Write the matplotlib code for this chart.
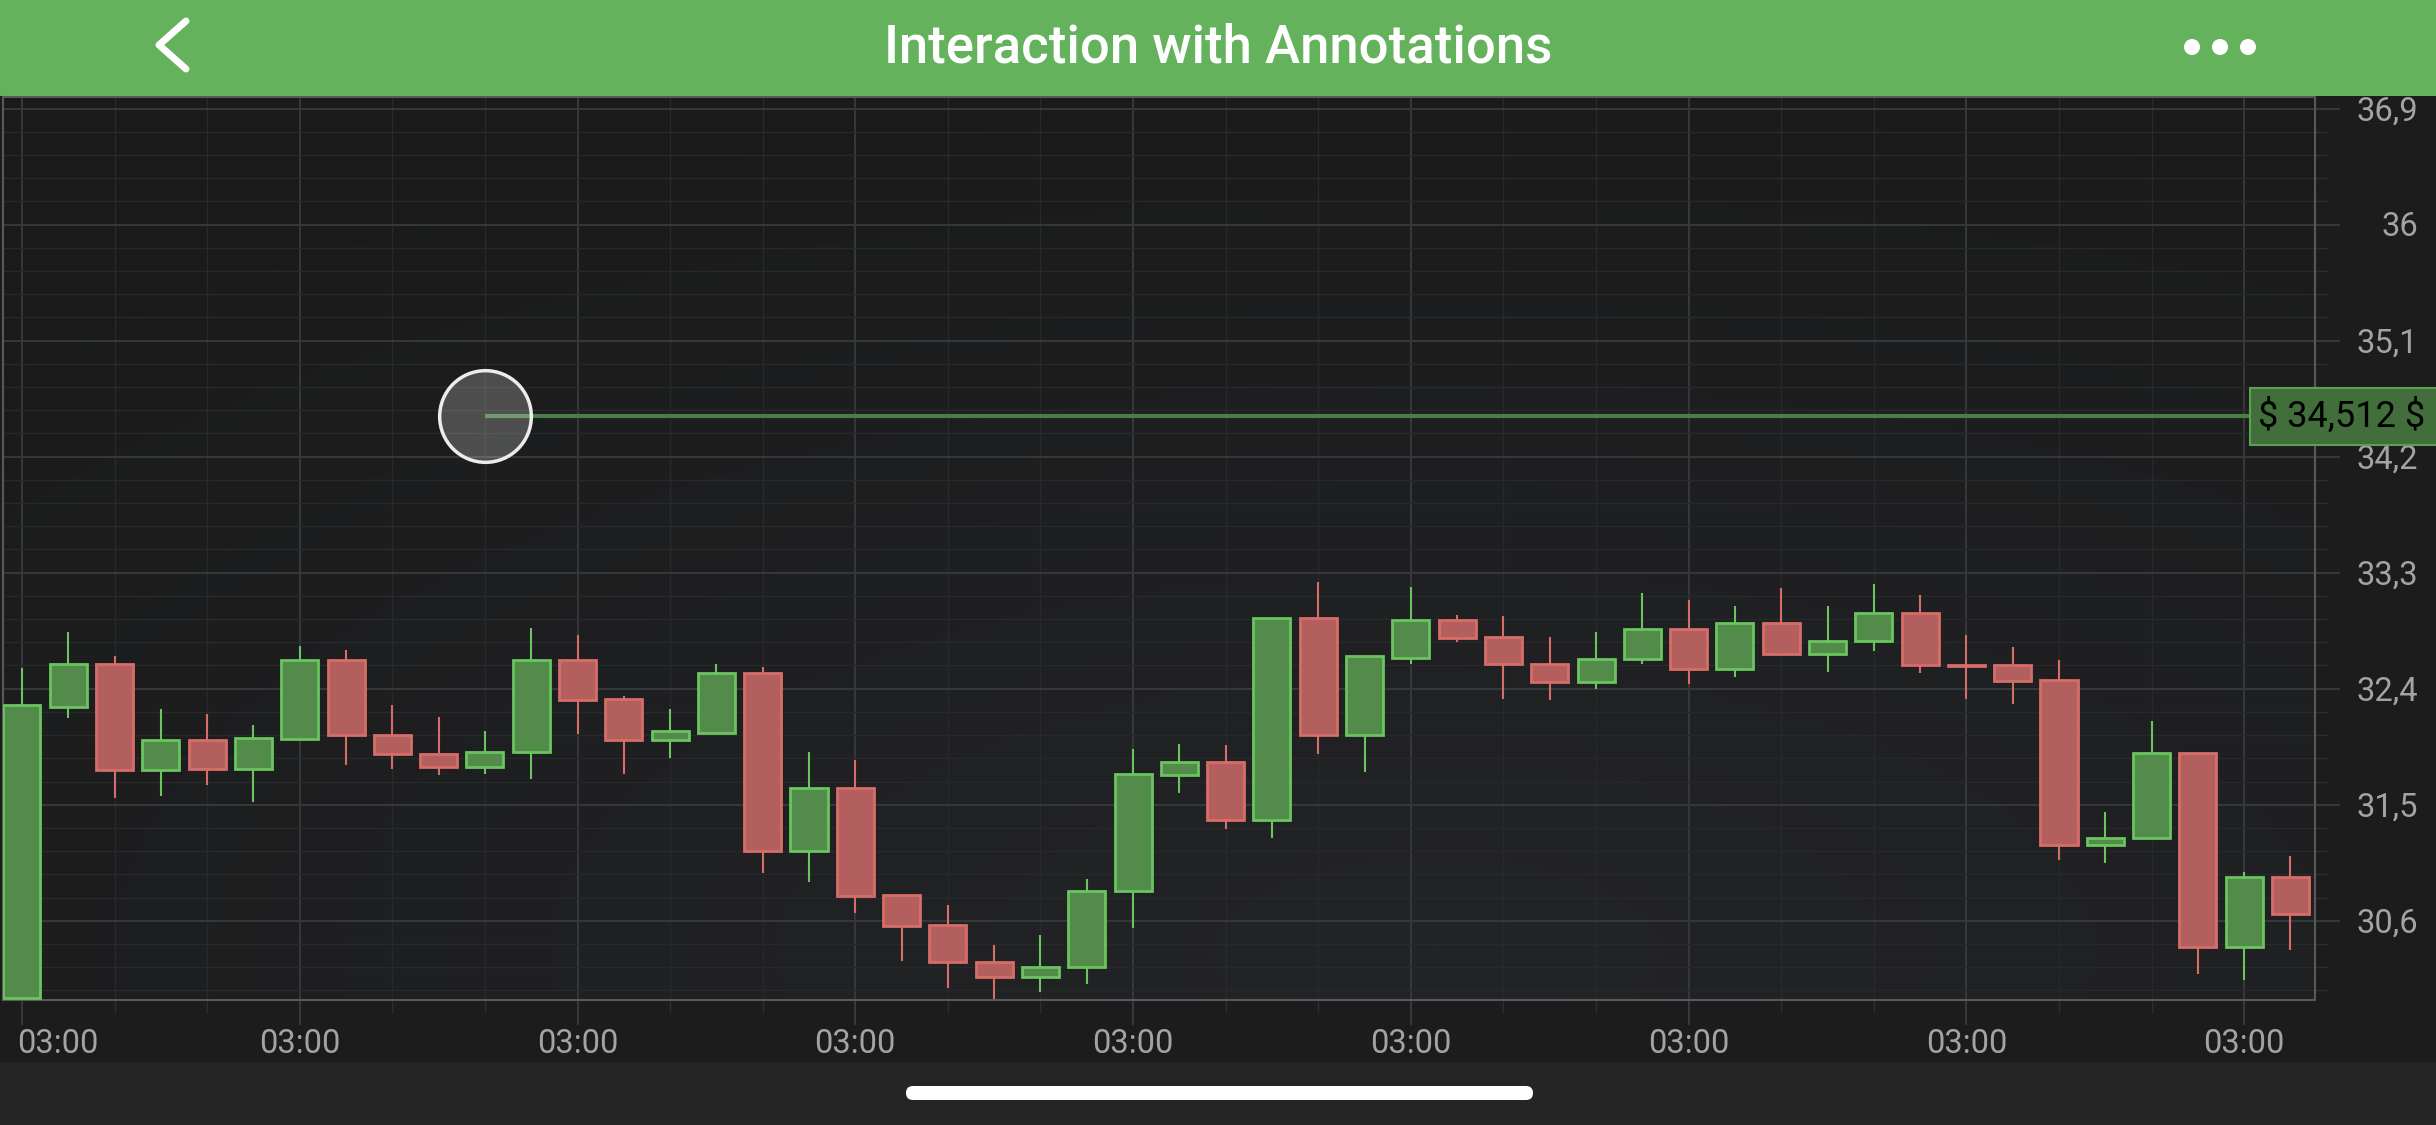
import numpy as np
import matplotlib
matplotlib.use('Agg')
import matplotlib.pyplot as plt
import matplotlib.transforms as mtransforms
from matplotlib.patches import Rectangle, FancyBboxPatch, Circle
from matplotlib.colors import LinearSegmentedColormap

# ---------------- data ----------------
title = "Interaction with Annotations"
x_tick_label = "03:00"

opens = [30.00, 32.26, 32.59, 31.77, 32.00, 31.78, 32.01, 32.62, 32.04, 31.89,
         31.79, 31.91, 32.62, 32.32, 32.00, 32.06, 32.52, 31.14, 31.63, 30.80,
         30.57, 30.28, 30.16, 30.24, 30.83, 31.73, 31.83, 31.38, 32.95, 32.04,
         32.64, 32.93, 32.80, 32.59, 32.45, 32.63, 32.86, 32.55, 32.91, 32.67,
         32.77, 32.99, 32.58, 32.58, 32.47, 31.19, 31.24, 31.90, 30.40, 30.94]
closes = [32.27, 32.59, 31.77, 32.00, 31.78, 32.02, 32.62, 32.04, 31.89, 31.79,
          31.91, 32.62, 32.31, 32.00, 32.07, 32.52, 31.14, 31.63, 30.79, 30.56,
          30.28, 30.16, 30.24, 30.83, 31.74, 31.83, 31.38, 32.95, 32.04, 32.65,
          32.93, 32.79, 32.59, 32.45, 32.63, 32.86, 32.55, 32.91, 32.67, 32.77,
          32.99, 32.58, 32.575, 32.46, 31.19, 31.24, 31.90, 30.40, 30.94, 30.65]
highs = [32.56, 32.84, 32.65, 32.24, 32.20, 32.12, 32.73, 32.70, 32.27, 32.18,
         32.07, 32.87, 32.82, 32.34, 32.24, 32.59, 32.57, 31.91, 31.85, 30.80,
         30.72, 30.41, 30.49, 30.92, 31.93, 31.97, 31.96, 32.95, 33.23, 32.65,
         33.19, 32.97, 32.96, 32.80, 32.84, 33.14, 33.09, 33.04, 33.18, 33.04,
         33.21, 33.13, 32.82, 32.72, 32.62, 31.44, 32.15, 31.90, 30.98, 31.10]
lows = [30.00, 32.17, 31.55, 31.57, 31.65, 31.52, 32.00, 31.81, 31.78, 31.73,
        31.74, 31.70, 32.05, 31.74, 31.86, 32.05, 30.97, 30.90, 30.66, 30.29,
        30.08, 29.99, 30.05, 30.11, 30.54, 31.59, 31.31, 31.24, 31.89, 31.75,
        32.59, 32.76, 32.32, 32.31, 32.40, 32.59, 32.44, 32.49, 32.65, 32.53,
        32.69, 32.52, 32.32, 32.28, 31.07, 31.05, 31.24, 30.19, 30.14, 30.37]

y_major = [30.6, 31.5, 32.4, 33.3, 34.2, 35.1, 36.0, 36.9]
annot_x = 10
annot_y = 34.512
annot_text = "$ 34,512 $"

# ---------------- figure ----------------
W, H = 2436, 1125
FONT = ['Roboto', 'DejaVu Sans']
fig = plt.figure(figsize=(W / 100, H / 100), dpi=100, facecolor='#1c1c1c')

# overlay in pixel coordinates (header, bottom strip)
ov = fig.add_axes([0, 0, 1, 1], zorder=0)
ov.set_xlim(0, W)
ov.set_ylim(H, 0)
ov.axis('off')
ov.add_patch(Rectangle((0, 0), W, 96, color='#64b25b', lw=0))
ov.add_patch(Rectangle((0, 1062), W, H - 1062, color='#252525', lw=0))
ov.add_patch(FancyBboxPatch((906, 1086), 627, 14,
                            boxstyle='round,pad=0,rounding_size=7',
                            color='white', lw=0))
ov.plot([186, 159, 186], [21, 45, 69], color='white', lw=5,
        solid_capstyle='round', solid_joinstyle='round')
for cx in (2192, 2220, 2248):
    ov.add_patch(Circle((cx, 47), 8, color='white', lw=0))
ov.text(W / 2, 48, title, color='white', fontsize=38, fontweight='medium',
        family=FONT, ha='center', va='center')

# main chart axes
L, R, T, B = 2.5, 2315, 97, 1000
ax = fig.add_axes([L / W, 1 - B / H, (R - L) / W, (B - T) / H], zorder=1)
xmin, xmax = -0.42, 49.53
ymin, ymax = 29.985, 36.99

# background gradient
u = np.linspace(0, 1, 300)
v = np.linspace(0, 1, 200)
U, V = np.meshgrid(u, v)
g = 1 - np.sqrt(((U - 0.62) / 0.95) ** 2 + ((V - 0.05) / 1.05) ** 2)
g = np.clip(g, 0, 1)
cmap = LinearSegmentedColormap.from_list('bg', ['#1a1a1a', '#232427'])
ax.imshow(g, extent=[0, 1, 0, 1], transform=ax.transAxes, origin='lower',
          cmap=cmap, aspect='auto', zorder=0, interpolation='bilinear')

# grid / ticks
ax.set_xticks(list(range(0, 50, 6)))
ax.set_xticks([i for i in range(0, 50, 2) if i % 6], minor=True)
ax.set_yticks(y_major)
minor_y = []
k = 0
while True:
    val = round(30.06 + 0.18 * k, 2)
    if val > 36.95:
        break
    if all(abs(val - m) > 1e-6 for m in y_major):
        minor_y.append(val)
    k += 1
ax.set_yticks(minor_y, minor=True)
ax.tick_params(which='major', length=18, width=1.4, color='#36393c',
               direction='out', labelbottom=False, labelleft=False,
               left=False, right=True, labelright=False)
ax.tick_params(which='minor', length=9, width=1.0, color='#2c2e30',
               direction='out', labelbottom=False, labelleft=False,
               left=False, right=True, labelright=False)
ax.set_axisbelow(True)
ax.grid(which='major', color='#36393c', lw=1.4)
ax.grid(which='minor', color='#28292b', lw=1.0)
for s in ax.spines.values():
    s.set_color('#58595b')
    s.set_linewidth(1.5)

# candles
x = np.arange(len(opens))
o = np.array(opens)
c = np.array(closes)
up = c >= o
edge_up, fill_up = '#6bc55f', '#538b4a'
edge_dn, fill_dn = '#d76d69', '#b35f5d'
edges = [edge_up if f else edge_dn for f in up]
fills = [fill_up if f else fill_dn for f in up]
ax.vlines(x, lows, highs, colors=edges, lw=1.5, zorder=3)
ax.bar(x, np.abs(c - o), bottom=np.minimum(o, c), width=0.8, color=fills,
       edgecolor=edges, linewidth=2.0, zorder=4)

# annotation
ax.plot([annot_x, xmax + 5], [annot_y, annot_y], color='#4a7f43', lw=3,
        zorder=5, solid_capstyle='butt')
ax.plot([annot_x], [annot_y], 'o', ms=66, mfc=(1, 1, 1, 0.22),
        mec='#ececec', mew=2.5, zorder=6)
pw = R - L
bx0 = (2250 - L) / pw
bx1 = (2440 - L) / pw
btr = mtransforms.blended_transform_factory(ax.transAxes, ax.transData)
ax.add_patch(Rectangle((bx0, annot_y - 0.221), bx1 - bx0, 0.442,
                       transform=btr, facecolor='#416e3a', edgecolor='#5aa04f',
                       lw=1.5, zorder=7, clip_on=False))
ax.text((2258 - L) / pw, annot_y - 0.005, annot_text, transform=btr,
        color='black', fontsize=26, family=FONT, ha='left', va='center',
        zorder=8, clip_on=False, parse_math=False)

ax.set_xlim(xmin, xmax)
ax.set_ylim(ymin, ymax)

# y labels (right side)
for yv in y_major:
    s = ('%g' % yv).replace('.', ',')
    ax.text((2418 - L) / pw, yv - 0.02, s, transform=btr, color='#a3a3a3',
            fontsize=23.5, family=FONT, ha='right', va='center', clip_on=False)

# x labels
xtr = mtransforms.blended_transform_factory(ax.transData, ax.transAxes)
ly = (B - 1044) / (B - T)
for i in range(0, 50, 6):
    if i == 0:
        ax.text(-0.11, ly, x_tick_label, transform=xtr, color='#a3a3a3',
                fontsize=23.5, family=FONT, ha='left', va='center', clip_on=False)
    else:
        ax.text(i, ly, x_tick_label, transform=xtr, color='#a3a3a3',
                fontsize=23.5, family=FONT, ha='center', va='center',
                clip_on=False)

fig.savefig('out.png', dpi=100, facecolor=fig.get_facecolor())
